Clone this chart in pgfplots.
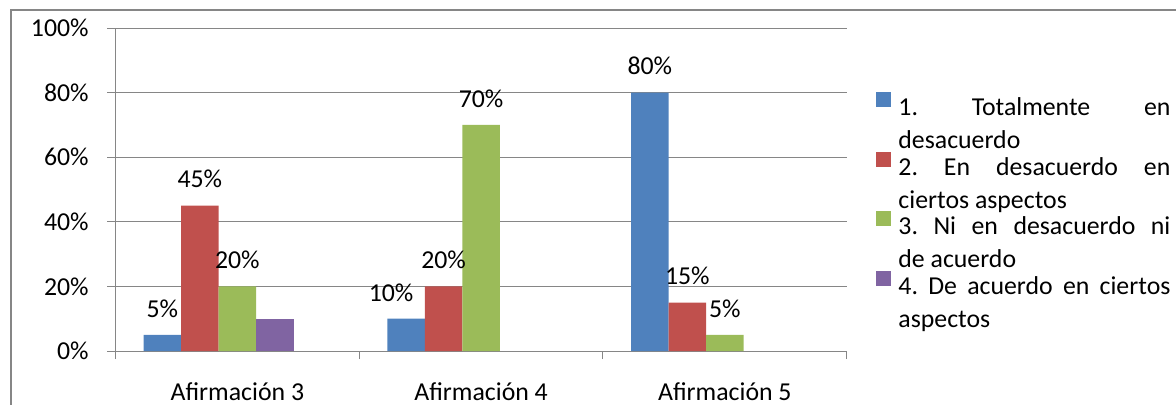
\documentclass[border=0pt]{standalone}
\usepackage{pgfplots}
\pgfplotsset{compat=1.18}
\usepackage{fontspec}
\setmainfont{Carlito}

\definecolor{serA}{RGB}{79,129,189}
\definecolor{serB}{RGB}{192,80,77}
\definecolor{serC}{RGB}{155,187,89}
\definecolor{serD}{RGB}{128,100,162}
\definecolor{gridgray}{RGB}{134,134,134}

\newcommand\cfont{\fontsize{12.9}{15}\selectfont}
% two-line justified legend text with a fixed box height and depth
\newcommand\legtext[1]{\raisebox{0pt}[10pt][3.5pt]{\parbox[t]{136pt}{\baselineskip=16.5pt #1}}}

\pgfplotsset{
  sq/.style={legend image code/.code={%
      \fill[##1] (0pt,0pt) rectangle (7.5pt,7.5pt);
      \path (11pt,0pt);}},
}

\begin{document}
\begin{tikzpicture}[font=\cfont]
\useasboundingbox (0,0) rectangle (588pt,202pt);
% chart frame (left and top edges)
\draw[gridgray, line width=0.8pt] (5.5pt,-2pt) -- (5.5pt,197pt) -- (590pt,197pt);
\begin{axis}[
  at={(57.75pt,26.5pt)}, anchor=south west,
  scale only axis, width=365.6pt, height=161.5pt,
  xmin=-0.5, xmax=2.5, ymin=0, ymax=100,
  ybar=0pt, bar width=18.75pt,
  axis x line=bottom, axis y line=left,
  axis line style={gridgray, line width=0.5pt, -},
  /pgf/number format/assume math mode=true,
  tick label style={font=\cfont, text=black},
  ytick={0,20,...,100},
  yticklabel={\pgfmathprintnumber{\tick}\%},
  yticklabel style={anchor=east, inner sep=0pt, xshift=-9pt},
  ymajorgrids, major grid style={gridgray, line width=0.5pt},
  tick align=outside,
  major tick length=4.25pt, minor tick length=4pt,
  major y tick style={gridgray, line width=0.5pt},
  xtick={0,1,2},
  xticklabels={Afirmación 3, Afirmación 4, Afirmación 5},
  major x tick style={draw=none},
  minor xtick={-0.5,0.5,1.5,2.5},
  minor x tick style={gridgray, line width=0.5pt},
  xticklabel style={anchor=base, inner sep=0pt, yshift=-20.25pt},
  point meta=y,
  nodes near coords={\pgfmathprintnumber{\pgfplotspointmeta}\%},
  nodes near coords style={font=\cfont, text=black, anchor=center, inner sep=0pt, yshift=13.2pt},
  legend style={draw=none, fill=none, inner sep=0pt, row sep=16.5pt,
    font=\cfont, nodes={inner sep=0pt},
    at={(1.0401,0.8028)}, anchor=north west},
  legend cell align=left,
]
\addplot[fill=serA, draw=none, bar shift=-37.5pt,
  visualization depends on={\thisrow{dx}\as\dx},
  nodes near coords style={xshift={\dx pt}}, sq]
  table[row sep=\\] {x y dx\\ 0 5 0\\ 1 10 -7.5\\ 2 80 0\\};
\addlegendentry{\legtext{1.\hfill Totalmente\hfill en\newline desacuerdo}}
\addplot[fill=serB, draw=none, bar shift=-18.75pt, sq]
  table[row sep=\\] {x y\\ 0 45\\ 1 20\\ 2 15\\};
\addlegendentry{\legtext{2.\hfill En\hfill desacuerdo\hfill en\newline ciertos aspectos}}
\addplot[fill=serC, draw=none, bar shift=0pt, sq]
  table[row sep=\\] {x y\\ 0 20\\ 1 70\\ 2 5\\};
\addlegendentry{\legtext{3.\hfill Ni\hfill en\hfill desacuerdo\hfill ni\newline de acuerdo}}
\addplot[fill=serD, draw=none, bar shift=18.75pt, nodes near coords={}, sq]
  table[row sep=\\] {x y\\ 0 10\\};
\addlegendentry{\legtext{4.\hfill De\hfill acuerdo\hfill en\hfill ciertos\newline aspectos}}
\end{axis}
\end{tikzpicture}
\end{document}
